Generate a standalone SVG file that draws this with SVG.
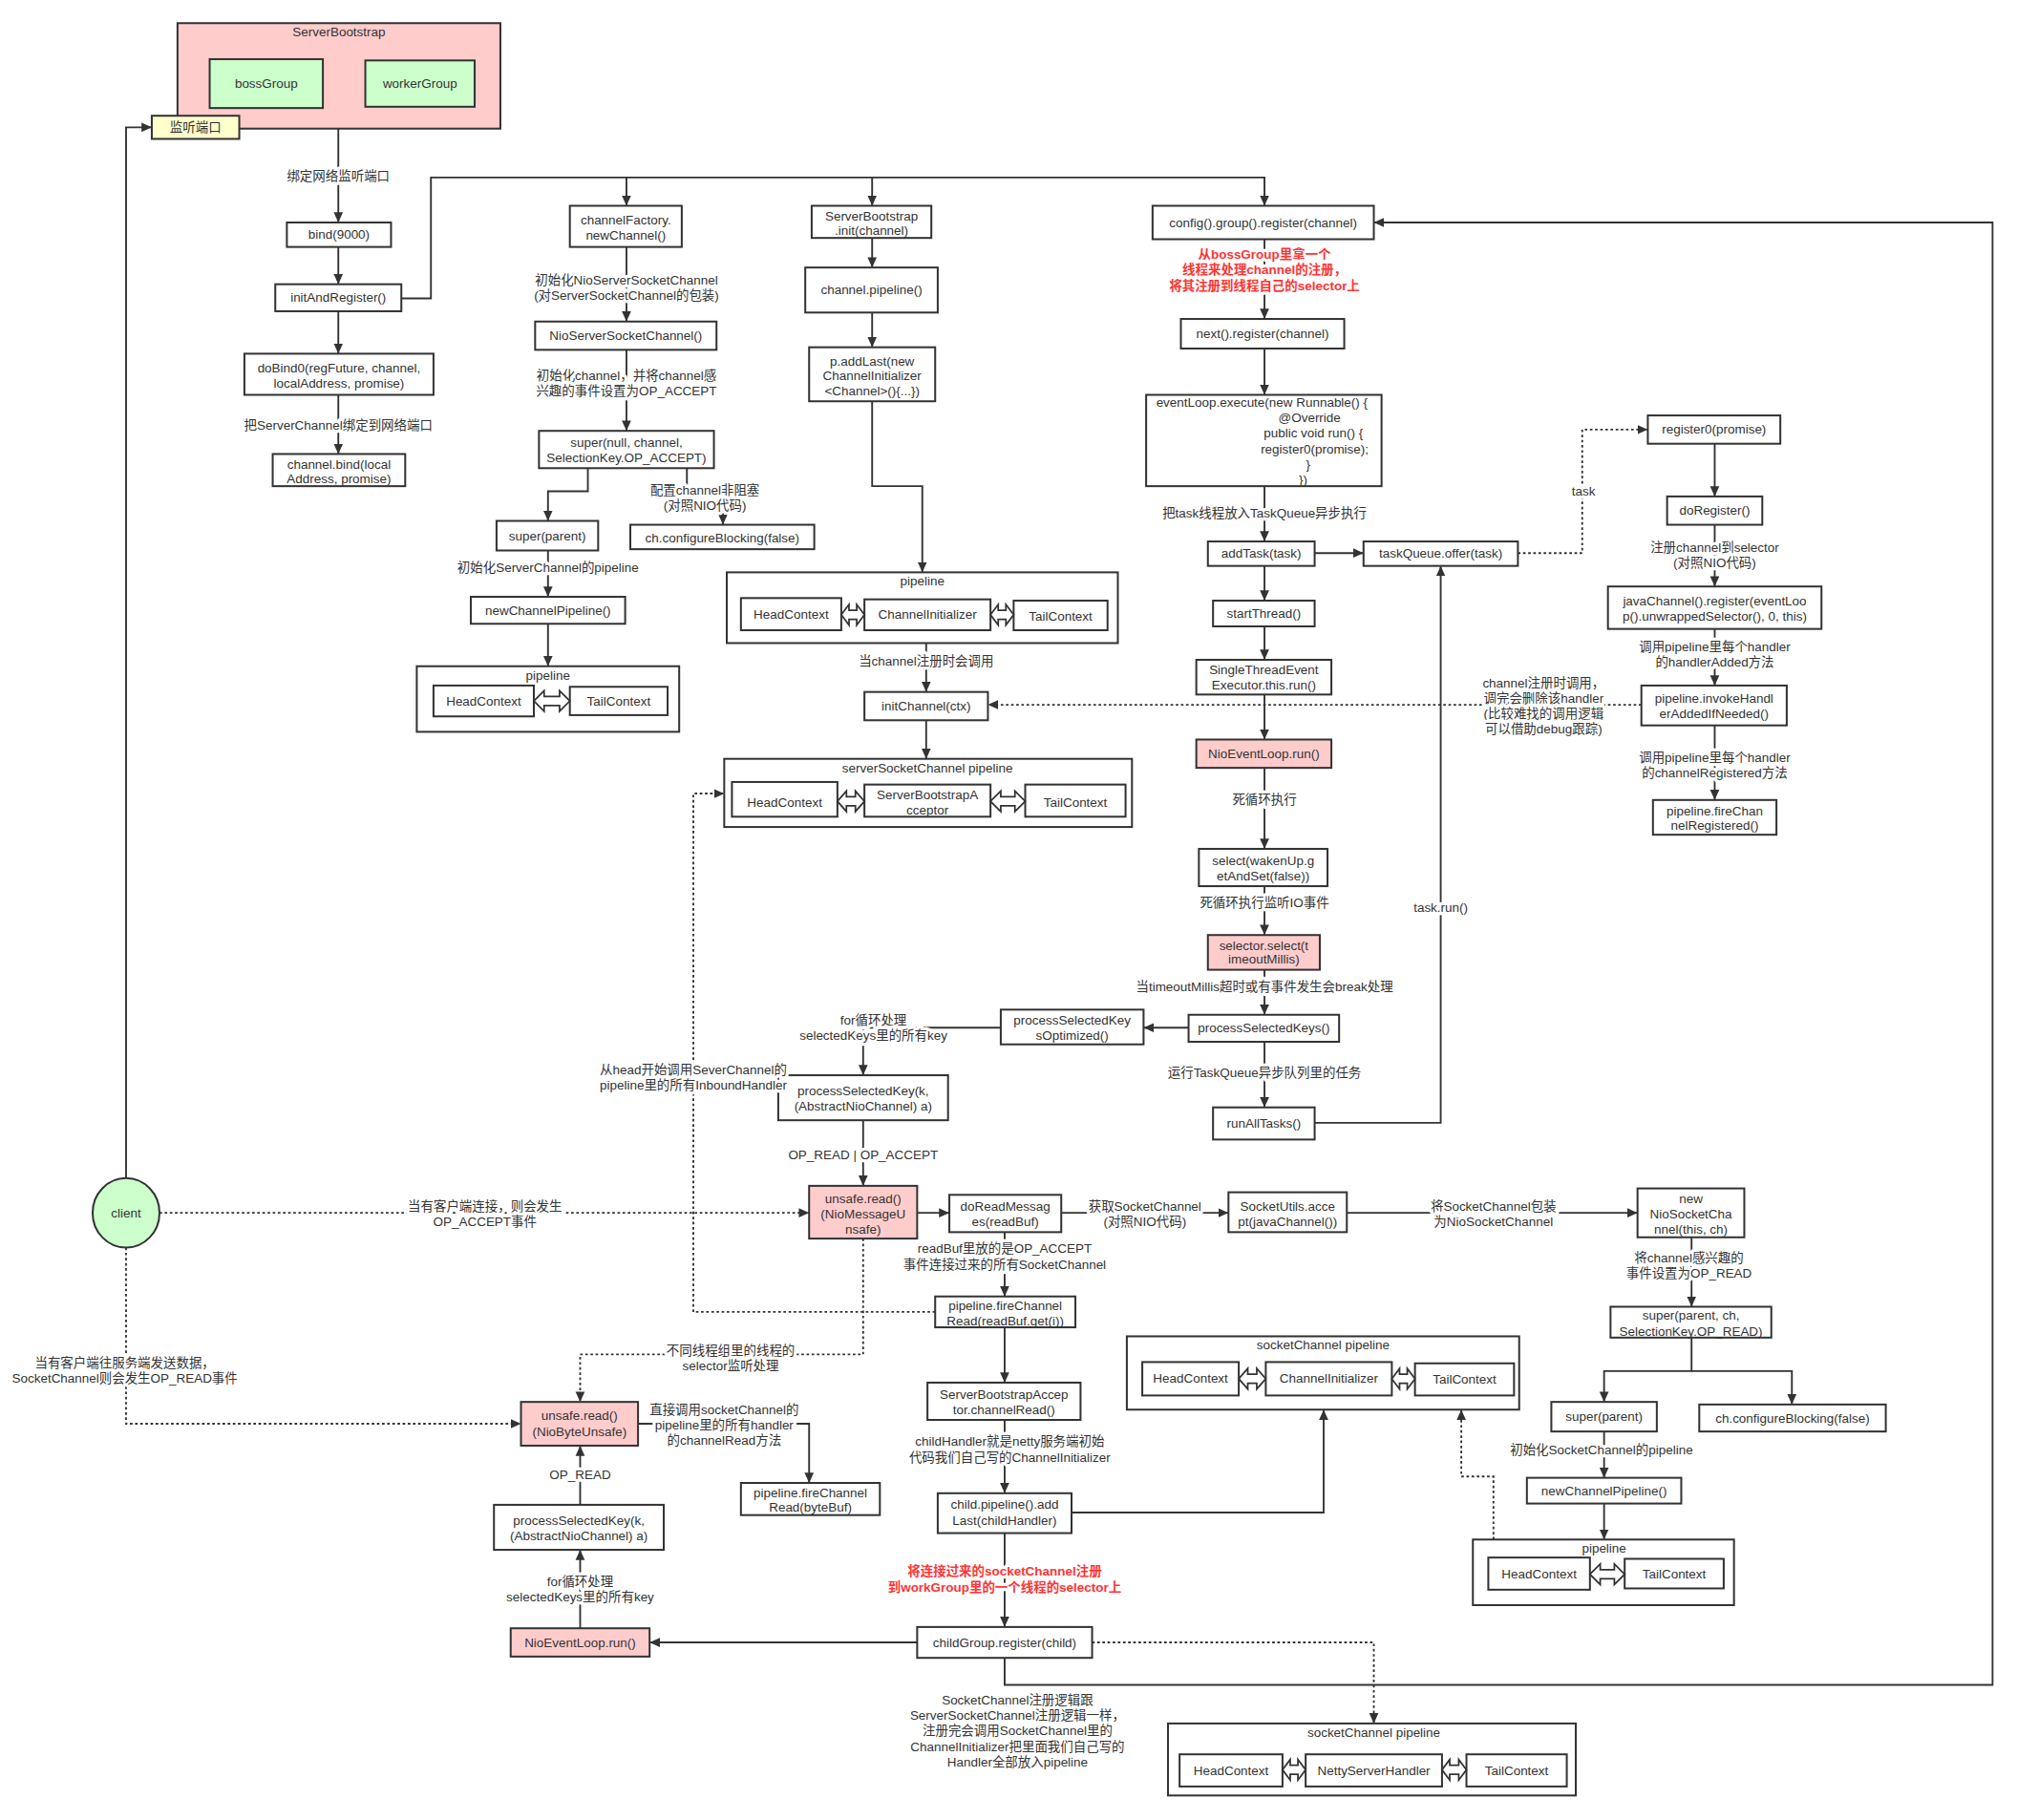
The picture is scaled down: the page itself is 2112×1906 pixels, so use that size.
<svg xmlns="http://www.w3.org/2000/svg" width="2112" height="1906" viewBox="0 0 2112 1906">
<defs>
<marker id="ar" viewBox="0 0 10 10" refX="10" refY="5" markerWidth="8" markerHeight="8" markerUnits="userSpaceOnUse" orient="auto"><path d="M0,0.5 L10,5 L0,9.5 z" fill="#333"/></marker>
<style>
text{font-family:"Liberation Sans","Noto Sans CJK SC",sans-serif;font-size:10px;fill:#333;text-anchor:middle;dominant-baseline:central}
.b{fill:#fff;stroke:#333;stroke-width:1.5}
.pk{fill:#ffcccc}
.gr{fill:#ccffcc}
.yl{fill:#ffffcc}
.e{fill:none;stroke:#333;stroke-width:1.4;marker-end:url(#ar)}
.n{marker-end:none}
.d{stroke-dasharray:2 2}
.da{fill:#fff;stroke:#333;stroke-width:1.3}
.l{stroke:#fff;stroke-width:5px;paint-order:stroke;stroke-linejoin:round}
.r{fill:#ff3333;font-weight:bold}
</style>
</defs>
<rect x="0" y="0" width="2112" height="1906" fill="#fff"/>
<g transform="scale(1.346939)">
<g id="connectors">
<path class="e" d="M98,916 V99 H118"/>
<path class="e" d="M263,100 V173"/>
<path class="e" d="M263,192 V221"/>
<path class="e" d="M263,242 V275"/>
<path class="e" d="M263,307 V353"/>
<path class="e" d="M312,232 H335 V138 H487 V160"/>
<path class="e" d="M487,138 H678 V160"/>
<path class="e" d="M678,138 H983 V160"/>
<path class="e" d="M487,192 V250"/>
<path class="e" d="M487,272 V335"/>
<path class="e" d="M457,364 V382 H426 V405"/>
<path class="e" d="M534,364 V386 H562 V408"/>
<path class="e" d="M426,428 V464"/>
<path class="e" d="M426,485 V518"/>
<path class="e" d="M678,185 V208"/>
<path class="e" d="M678,243 V270"/>
<path class="e" d="M678,312 V378 H717 V445"/>
<path class="e" d="M720,490 V538"/>
<path class="e" d="M720,560 V590"/>
<path class="e d" d="M1276,548 H768"/>
<path class="e d" d="M727,1020 H539 V617 H563"/>
<path class="e" d="M983,186 V248"/>
<path class="e" d="M983,271 V307"/>
<path class="e" d="M983,378 V421"/>
<path class="e" d="M1022,430 H1060"/>
<path class="e d" d="M1180,430 H1230 V334 H1281"/>
<path class="e" d="M1333,345 V386"/>
<path class="e" d="M1333,408 V456"/>
<path class="e" d="M1333,489 V533"/>
<path class="e" d="M1333,564 V622"/>
<path class="e" d="M983,440 V467"/>
<path class="e" d="M983,487 V513"/>
<path class="e" d="M983,540 V575"/>
<path class="e" d="M983,597 V660"/>
<path class="e" d="M983,689 V727"/>
<path class="e" d="M983,754 V789"/>
<path class="e" d="M924,799 H889"/>
<path class="e" d="M778,799 H671 V836"/>
<path class="e" d="M983,810 V861"/>
<path class="e" d="M1022,873 H1120 V440"/>
<path class="e" d="M671,871 V922"/>
<path class="e d" d="M124,943 H629"/>
<path class="e" d="M713,943 H738"/>
<path class="e" d="M825,943 H955"/>
<path class="e" d="M1047,943 H1273"/>
<path class="e" d="M1315,962 V1016"/>
<path class="e" d="M1315,1040 V1066 H1247 V1090"/>
<path class="e" d="M1315,1066 H1393 V1092"/>
<path class="e" d="M1247,1113 V1149"/>
<path class="e" d="M1247,1169 V1197"/>
<path class="e d" d="M1161,1197 V1148 H1136 V1096"/>
<path class="e" d="M781,958 V1008"/>
<path class="e" d="M781,1032 V1075"/>
<path class="e" d="M781,1104 V1161"/>
<path class="e" d="M833,1176 H1029 V1096"/>
<path class="e" d="M781,1192 V1265"/>
<path class="e" d="M713,1277 H505"/>
<path class="e" d="M781,1289 V1310 H1549 V173 H1068"/>
<path class="e d" d="M849,1277 H1068 V1340"/>
<path class="e" d="M451,1266 V1205"/>
<path class="e" d="M451,1170 V1124"/>
<path class="e" d="M496,1107 H629 V1153"/>
<path class="e d" d="M671,963 V1053 H451 V1090"/>
<path class="e d" d="M98,970 V1107 H405"/>
</g>

<g id="n_sb"><rect class="b pk" x="138" y="18" width="251" height="82"/><text x="263.5" y="25">ServerBootstrap</text></g>
<g id="n_boss"><rect class="b gr" x="163" y="46" width="88" height="38"/><text x="207" y="65">bossGroup</text></g>
<g id="n_worker"><rect class="b gr" x="284" y="47" width="85" height="36"/><text x="326.5" y="65">workerGroup</text></g>
<g id="n_port"><rect class="b yl" x="118" y="90" width="68" height="18"/><text x="152" y="99">监听端口</text></g>
<g id="n_bind"><rect class="b" x="223" y="173" width="81" height="19"/><text x="263.5" y="182.5">bind(9000)</text></g>
<g id="n_initreg"><rect class="b" x="214" y="221" width="98" height="21"/><text x="263" y="231.5">initAndRegister()</text></g>
<g id="n_dobind"><rect class="b" x="190" y="275" width="147" height="32"/><text x="263.5" y="286">doBind0(regFuture, channel,</text><text x="263.5" y="298">localAddress, promise)</text></g>
<g id="n_chbind"><rect class="b" x="212" y="353" width="103" height="25"/><text x="263.5" y="361">channel.bind(local</text><text x="263.5" y="372">Address, promise)</text></g>

<g id="n_cf"><rect class="b" x="443" y="160" width="87" height="32"/><text x="486.5" y="171">channelFactory.</text><text x="486.5" y="183">newChannel()</text></g>
<g id="n_nssc"><rect class="b" x="416" y="250" width="141" height="22"/><text x="486.5" y="261">NioServerSocketChannel()</text></g>
<g id="n_super1"><rect class="b" x="419" y="335" width="136" height="29"/><text x="487" y="344">super(null, channel,</text><text x="487" y="356">SelectionKey.OP_ACCEPT)</text></g>
<g id="n_superp1"><rect class="b" x="386" y="405" width="79" height="23"/><text x="425.5" y="416.5">super(parent)</text></g>
<g id="n_cb1"><rect class="b" x="490" y="408" width="143" height="19"/><text x="561.5" y="418">ch.configureBlocking(false)</text></g>
<g id="n_ncp1"><rect class="b" x="366" y="464" width="120" height="21"/><text x="426" y="475">newChannelPipeline()</text></g>
<g id="n_pipe1"><rect class="b" x="324" y="518" width="204" height="51"/><text x="426" y="525">pipeline</text>
<rect class="b" x="337" y="533" width="78" height="24"/><text x="376" y="545">HeadContext</text>
<rect class="b" x="443" y="534" width="76" height="22"/><text x="481" y="545">TailContext</text>
<path class="da" d="M415,545 L423,537 L423,541.5 L435,541.5 L435,537 L443,545 L435,553 L435,548.5 L423,548.5 L423,553 Z"/></g>

<g id="n_sbinit"><rect class="b" x="631" y="160" width="93" height="25"/><text x="677.5" y="168">ServerBootstrap</text><text x="677.5" y="179">.init(channel)</text></g>
<g id="n_chpipe"><rect class="b" x="626" y="208" width="103" height="35"/><text x="677.5" y="225.5">channel.pipeline()</text></g>
<g id="n_addlast"><rect class="b" x="629" y="270" width="98" height="42"/><text x="678" y="281">p.addLast(new</text><text x="678" y="292.5">ChannelInitializer</text><text x="678" y="304">&lt;Channel&gt;(){...})</text></g>
<g id="n_pipe2"><rect class="b" x="565" y="445" width="304" height="55"/><text x="717" y="452">pipeline</text>
<rect class="b" x="576" y="465" width="78" height="25"/><text x="615" y="478">HeadContext</text>
<rect class="b" x="672" y="466" width="98" height="24"/><text x="721" y="478">ChannelInitializer</text>
<rect class="b" x="788" y="467" width="73" height="23"/><text x="824.5" y="479">TailContext</text>
<path class="da" d="M654,478 L660,470 L660,474.5 L666,474.5 L666,470 L672,478 L666,486 L666,481.5 L660,481.5 L660,486 Z"/>
<path class="da" d="M770,478 L776,470 L776,474.5 L782,474.5 L782,470 L788,478 L782,486 L782,481.5 L776,481.5 L776,486 Z"/></g>
<g id="n_initch"><rect class="b" x="672" y="538" width="96" height="22"/><text x="720" y="549">initChannel(ctx)</text></g>
<g id="n_sscp"><rect class="b" x="563" y="590" width="317" height="53"/><text x="721" y="597">serverSocketChannel pipeline</text>
<rect class="b" x="569" y="608" width="82" height="27"/><text x="610" y="624">HeadContext</text>
<rect class="b" x="672" y="610" width="98" height="25"/><text x="721" y="618">ServerBootstrapA</text><text x="721" y="630">cceptor</text>
<rect class="b" x="797" y="610" width="78" height="25"/><text x="836" y="624">TailContext</text>
<path class="da" d="M651,623 L658,615 L658,619.5 L665,619.5 L665,615 L672,623 L665,631 L665,626.5 L658,626.5 L658,631 Z"/>
<path class="da" d="M770,623 L778,615 L778,619.5 L789,619.5 L789,615 L797,623 L789,631 L789,626.5 L778,626.5 L778,631 Z"/></g>

<g id="n_cfg"><rect class="b" x="896" y="160" width="172" height="26"/><text x="982" y="173">config().group().register(channel)</text></g>
<g id="n_next"><rect class="b" x="918" y="248" width="127" height="23"/><text x="981.5" y="259.5">next().register(channel)</text></g>
<g id="n_exec"><rect class="b" x="891" y="307" width="183" height="71"/><text x="981" y="313">eventLoop.execute(new Runnable() {</text><text x="1018" y="325">@Override</text><text x="1021" y="337">public void run() {</text><text x="1022" y="349">register0(promise);</text><text x="1017" y="361">}</text><text x="1013" y="373">})</text></g>
<g id="n_addtask"><rect class="b" x="939" y="421" width="83" height="19"/><text x="980.5" y="430.5">addTask(task)</text></g>
<g id="n_tq"><rect class="b" x="1060" y="421" width="120" height="19"/><text x="1120" y="430.5">taskQueue.offer(task)</text></g>
<g id="n_reg0"><rect class="b" x="1281" y="323" width="103" height="22"/><text x="1332.5" y="334">register0(promise)</text></g>
<g id="n_doreg"><rect class="b" x="1296" y="386" width="74" height="22"/><text x="1333" y="397">doRegister()</text></g>
<g id="n_javach"><rect class="b" x="1250" y="456" width="166" height="33"/><text x="1333" y="467">javaChannel().register(eventLoo</text><text x="1333" y="479">p().unwrappedSelector(), 0, this)</text></g>
<g id="n_invoke"><rect class="b" x="1276" y="533" width="113" height="31"/><text x="1332.5" y="543">pipeline.invokeHandl</text><text x="1332.5" y="555">erAddedIfNeeded()</text></g>
<g id="n_firereg"><rect class="b" x="1285" y="622" width="96" height="27"/><text x="1333" y="631">pipeline.fireChan</text><text x="1333" y="642">nelRegistered()</text></g>
<g id="n_start"><rect class="b" x="943" y="467" width="79" height="20"/><text x="982.5" y="477">startThread()</text></g>
<g id="n_stee"><rect class="b" x="930" y="513" width="105" height="27"/><text x="982.5" y="521">SingleThreadEvent</text><text x="982.5" y="533">Executor.this.run()</text></g>
<g id="n_nel1"><rect class="b pk" x="930" y="575" width="105" height="22"/><text x="982.5" y="586">NioEventLoop.run()</text></g>
<g id="n_select"><rect class="b" x="932" y="660" width="100" height="29"/><text x="982" y="669">select(wakenUp.g</text><text x="982" y="681">etAndSet(false))</text></g>
<g id="n_selsel"><rect class="b pk" x="939" y="727" width="87" height="27"/><text x="982.5" y="735">selector.select(t</text><text x="982.5" y="746">imeoutMillis)</text></g>
<g id="n_psks"><rect class="b" x="924" y="789" width="117" height="21"/><text x="982.5" y="799.5">processSelectedKeys()</text></g>
<g id="n_psko"><rect class="b" x="778" y="785" width="111" height="27"/><text x="833.5" y="793">processSelectedKey</text><text x="833.5" y="805">sOptimized()</text></g>
<g id="n_psk1"><rect class="b" x="605" y="836" width="132" height="35"/><text x="671" y="848">processSelectedKey(k,</text><text x="671" y="860">(AbstractNioChannel) a)</text></g>
<g id="n_runall"><rect class="b" x="943" y="861" width="79" height="25"/><text x="982.5" y="873.5">runAllTasks()</text></g>
<g id="n_ur1"><rect class="b pk" x="629" y="922" width="84" height="41"/><text x="671" y="932">unsafe.read()</text><text x="671" y="944">(NioMessageU</text><text x="671" y="956">nsafe)</text></g>
<g id="n_drm"><rect class="b" x="738" y="929" width="87" height="29"/><text x="781.5" y="938">doReadMessag</text><text x="781.5" y="950">es(readBuf)</text></g>
<g id="n_sua"><rect class="b" x="955" y="927" width="92" height="31"/><text x="1001" y="938">SocketUtils.acce</text><text x="1001" y="950">pt(javaChannel())</text></g>
<g id="n_nnsc"><rect class="b" x="1273" y="924" width="83" height="38"/><text x="1314.5" y="932">new</text><text x="1314.5" y="944">NioSocketCha</text><text x="1314.5" y="956">nnel(this, ch)</text></g>
<g id="n_super2"><rect class="b" x="1252" y="1016" width="125" height="24"/><text x="1314.5" y="1023">super(parent, ch,</text><text x="1314.5" y="1035">SelectionKey.OP_READ)</text></g>
<g id="n_superp2"><rect class="b" x="1206" y="1090" width="82" height="23"/><text x="1247" y="1101.5">super(parent)</text></g>
<g id="n_cb2"><rect class="b" x="1321" y="1092" width="145" height="21"/><text x="1393.5" y="1102.5">ch.configureBlocking(false)</text></g>
<g id="n_ncp2"><rect class="b" x="1187" y="1149" width="120" height="20"/><text x="1247" y="1159">newChannelPipeline()</text></g>
<g id="n_pipe3"><rect class="b" x="1145" y="1197" width="203" height="51"/><text x="1247" y="1204">pipeline</text>
<rect class="b" x="1157" y="1211" width="79" height="25"/><text x="1196.5" y="1224">HeadContext</text>
<rect class="b" x="1263" y="1212" width="77" height="23"/><text x="1301.5" y="1224">TailContext</text>
<path class="da" d="M1236,1224 L1244,1216 L1244,1220.5 L1255,1220.5 L1255,1216 L1263,1224 L1255,1232 L1255,1227.5 L1244,1227.5 L1244,1232 Z"/></g>
<g id="n_fcr"><rect class="b" x="727" y="1008" width="109" height="24"/><text x="781.5" y="1015">pipeline.fireChannel</text><text x="781.5" y="1027">Read(readBuf.get(i))</text></g>
<g id="n_sbacr"><rect class="b" x="721" y="1075" width="119" height="29"/><text x="780.5" y="1084">ServerBootstrapAccep</text><text x="780.5" y="1096">tor.channelRead()</text></g>
<g id="n_childadd"><rect class="b" x="729" y="1161" width="104" height="31"/><text x="781" y="1170">child.pipeline().add</text><text x="781" y="1182">Last(childHandler)</text></g>
<g id="n_scp1"><rect class="b" x="876" y="1039" width="305" height="57"/><text x="1028.5" y="1046">socketChannel pipeline</text>
<rect class="b" x="888" y="1059" width="75" height="26"/><text x="925.5" y="1072">HeadContext</text>
<rect class="b" x="984" y="1059" width="98" height="26"/><text x="1033" y="1072">ChannelInitializer</text>
<rect class="b" x="1100" y="1060" width="77" height="25"/><text x="1138.5" y="1072.5">TailContext</text>
<path class="da" d="M963,1072 L970,1064 L970,1068.5 L977,1068.5 L977,1064 L984,1072 L977,1080 L977,1075.5 L970,1075.5 L970,1080 Z"/>
<path class="da" d="M1082,1072 L1088,1064 L1088,1068.5 L1094,1068.5 L1094,1064 L1100,1072 L1094,1080 L1094,1075.5 L1088,1075.5 L1088,1080 Z"/></g>
<g id="n_cgreg"><rect class="b" x="713" y="1265" width="136" height="24"/><text x="781" y="1277">childGroup.register(child)</text></g>
<g id="n_scp2"><rect class="b" x="908" y="1340" width="317" height="56"/><text x="1068" y="1347">socketChannel pipeline</text>
<rect class="b" x="917" y="1364" width="80" height="25"/><text x="957" y="1376.5">HeadContext</text>
<rect class="b" x="1015" y="1364" width="106" height="25"/><text x="1068" y="1376.5">NettyServerHandler</text>
<rect class="b" x="1140" y="1364" width="78" height="25"/><text x="1179" y="1376.5">TailContext</text>
<path class="da" d="M997,1376 L1003,1368 L1003,1372.5 L1009,1372.5 L1009,1368 L1015,1376 L1009,1384 L1009,1379.5 L1003,1379.5 L1003,1384 Z"/>
<path class="da" d="M1121,1376 L1127,1368 L1127,1372.5 L1134,1372.5 L1134,1368 L1140,1376 L1134,1384 L1134,1379.5 L1127,1379.5 L1127,1384 Z"/></g>
<g id="n_nel2"><rect class="b pk" x="397" y="1266" width="108" height="22"/><text x="451" y="1277">NioEventLoop.run()</text></g>
<g id="n_psk2"><rect class="b" x="384" y="1170" width="132" height="35"/><text x="450" y="1182">processSelectedKey(k,</text><text x="450" y="1194">(AbstractNioChannel) a)</text></g>
<g id="n_ur2"><rect class="b pk" x="405" y="1090" width="91" height="34"/><text x="450.5" y="1101">unsafe.read()</text><text x="450.5" y="1113">(NioByteUnsafe)</text></g>
<g id="n_fcrbb"><rect class="b" x="576" y="1153" width="108" height="25"/><text x="630" y="1161">pipeline.fireChannel</text><text x="630" y="1172">Read(byteBuf)</text></g>
<g id="n_client"><ellipse class="b gr" cx="98" cy="943" rx="26" ry="27"/><text x="98" y="943">client</text></g>

<g id="labels">
<text class="l" x="263" y="137">绑定网络监听端口</text>
<text class="l" x="263" y="331">把ServerChannel绑定到网络端口</text>
<text class="l" x="487" y="218">初始化NioServerSocketChannel</text>
<text class="l" x="487" y="230">(对ServerSocketChannel的包装)</text>
<text class="l" x="487" y="292">初始化channel，并将channel感</text>
<text class="l" x="487" y="304">兴趣的事件设置为OP_ACCEPT</text>
<text class="l" x="548" y="381">配置channel非阻塞</text>
<text class="l" x="548" y="393">(对照NIO代码)</text>
<text class="l" x="426" y="441">初始化ServerChannel的pipeline</text>
<text class="l" x="720" y="514">当channel注册时会调用</text>
<text class="l" x="1200" y="531">channel注册时调用，</text>
<text class="l" x="1200" y="543">调完会删除该handler</text>
<text class="l" x="1200" y="555">(比较难找的调用逻辑</text>
<text class="l" x="1200" y="567">可以借助debug跟踪)</text>
<text class="l" x="539" y="832">从head开始调用SeverChannel的</text>
<text class="l" x="539" y="844">pipeline里的所有InboundHandler</text>
<text class="l r" x="983" y="198">从bossGroup里拿一个</text>
<text class="l r" x="983" y="210">线程来处理channel的注册，</text>
<text class="l r" x="983" y="222">将其注册到线程自己的selector上</text>
<text class="l" x="983" y="399">把task线程放入TaskQueue异步执行</text>
<text class="l" x="1231" y="382">task</text>
<text class="l" x="1333" y="426">注册channel到selector</text>
<text class="l" x="1333" y="438">(对照NIO代码)</text>
<text class="l" x="1333" y="503">调用pipeline里每个handler</text>
<text class="l" x="1333" y="515">的handlerAdded方法</text>
<text class="l" x="1333" y="589">调用pipeline里每个handler</text>
<text class="l" x="1333" y="601">的channelRegistered方法</text>
<text class="l" x="983" y="622">死循环执行</text>
<text class="l" x="983" y="702">死循环执行监听IO事件</text>
<text class="l" x="983" y="767">当timeoutMillis超时或有事件发生会break处理</text>
<text class="l" x="679" y="793">for循环处理</text>
<text class="l" x="679" y="805">selectedKeys里的所有key</text>
<text class="l" x="983" y="834">运行TaskQueue异步队列里的任务</text>
<text class="l" x="1120" y="706">task.run()</text>
<text class="l" x="671" y="898">OP_READ | OP_ACCEPT</text>
<text class="l" x="377" y="938">当有客户端连接，则会发生</text>
<text class="l" x="377" y="950">OP_ACCEPT事件</text>
<text class="l" x="890" y="938">获取SocketChannel</text>
<text class="l" x="890" y="950">(对照NIO代码)</text>
<text class="l" x="1161" y="938">将SocketChannel包装</text>
<text class="l" x="1161" y="950">为NioSocketChannel</text>
<text class="l" x="1313" y="978">将channel感兴趣的</text>
<text class="l" x="1313" y="990">事件设置为OP_READ</text>
<text class="l" x="1245" y="1127">初始化SocketChannel的pipeline</text>
<text class="l" x="781" y="971">readBuf里放的是OP_ACCEPT</text>
<text class="l" x="781" y="983">事件连接过来的所有SocketChannel</text>
<text class="l" x="785" y="1121">childHandler就是netty服务端初始</text>
<text class="l" x="785" y="1133">代码我们自己写的ChannelInitializer</text>
<text class="l r" x="781" y="1222">将连接过来的socketChannel注册</text>
<text class="l r" x="781" y="1234">到workGroup里的一个线程的selector上</text>
<text x="791" y="1322">SocketChannel注册逻辑跟</text>
<text x="791" y="1334">ServerSocketChannel注册逻辑一样，</text>
<text x="791" y="1346">注册完会调用SocketChannel里的</text>
<text x="791" y="1358">ChannelInitializer把里面我们自己写的</text>
<text x="791" y="1370">Handler全部放入pipeline</text>
<text class="l" x="451" y="1230">for循环处理</text>
<text class="l" x="451" y="1242">selectedKeys里的所有key</text>
<text class="l" x="451" y="1147">OP_READ</text>
<text class="l" x="563" y="1096">直接调用socketChannel的</text>
<text class="l" x="563" y="1108">pipeline里的所有handler</text>
<text class="l" x="563" y="1120">的channelRead方法</text>
<text class="l" x="568" y="1050">不同线程组里的线程的</text>
<text class="l" x="568" y="1062">selector监听处理</text>
<text class="l" x="97" y="1060">当有客户端往服务端发送数据，</text>
<text class="l" x="97" y="1072">SocketChannel则会发生OP_READ事件</text>
</g>
</g>
</svg>
